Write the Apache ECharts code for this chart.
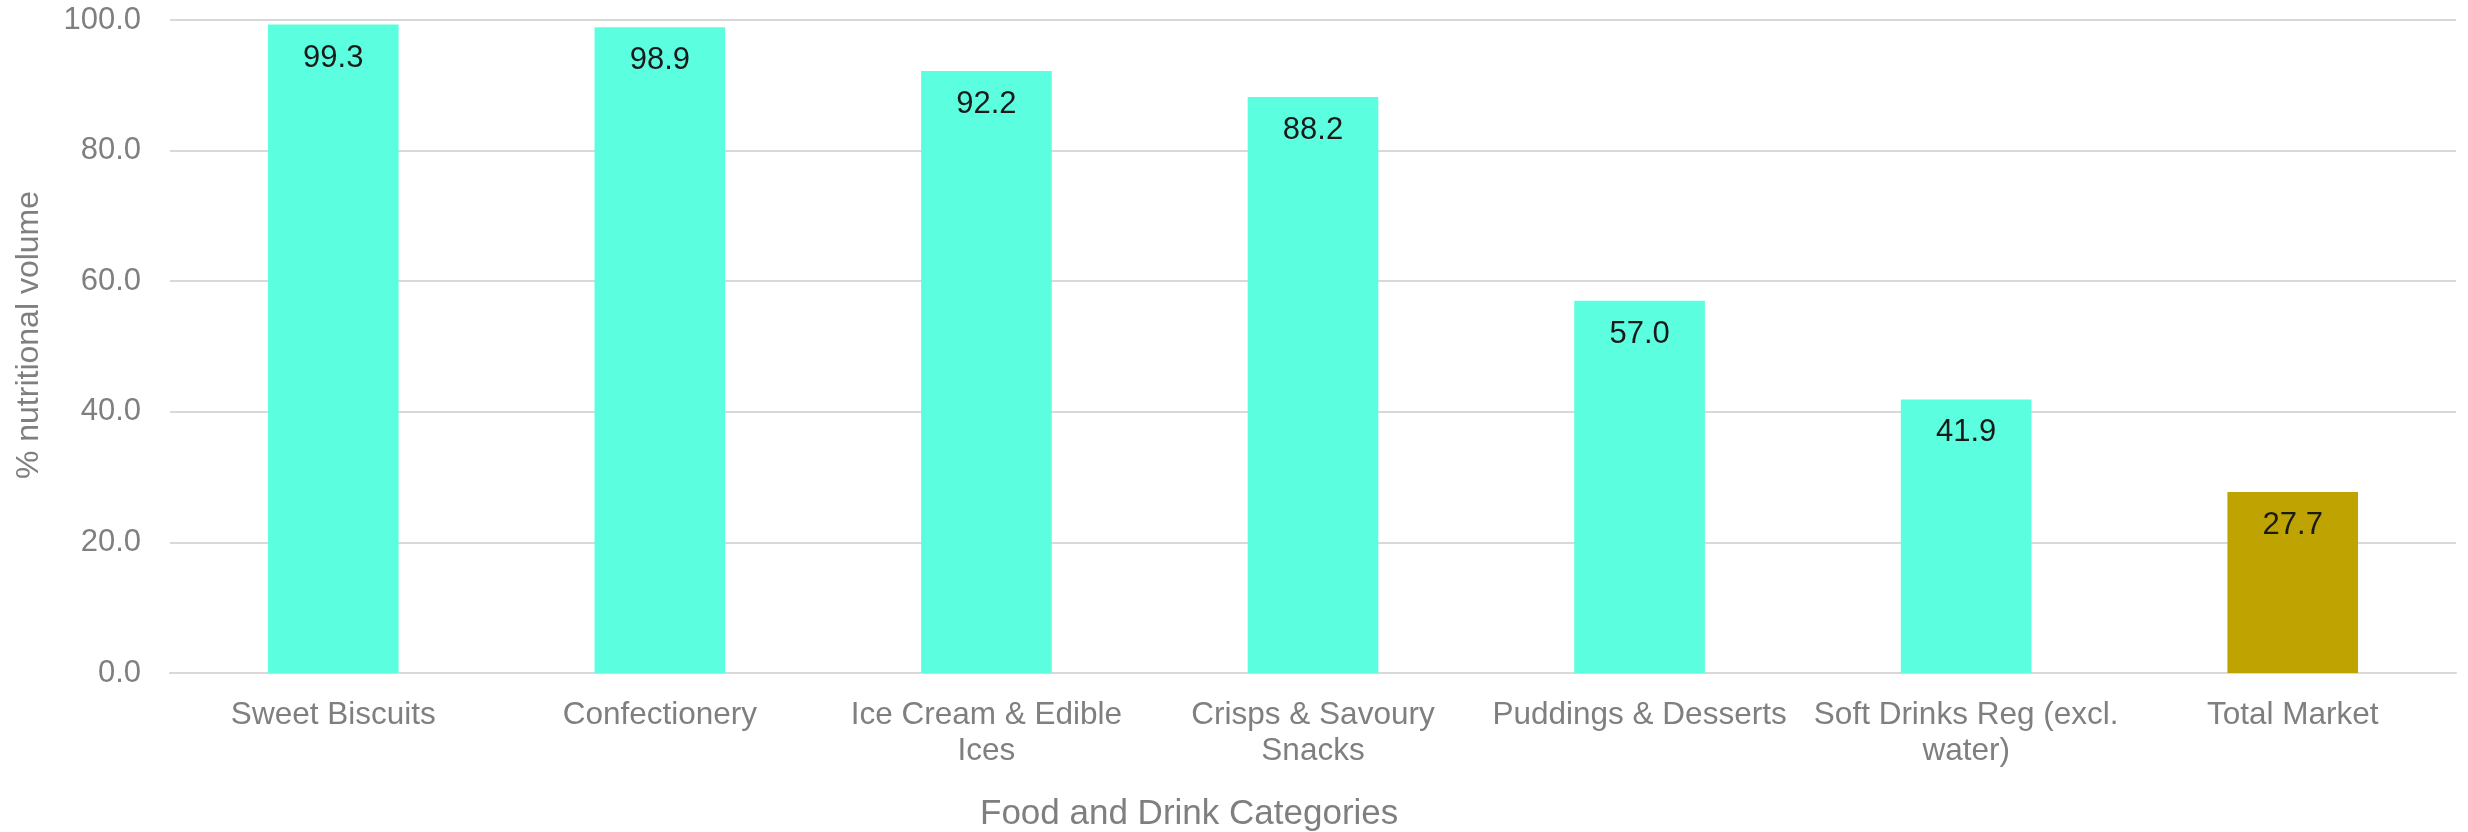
<!DOCTYPE html>
<html>
<head>
<meta charset="utf-8">
<title>% nutritional volume by food and drink category</title>
<script src="https://cdn.jsdelivr.net/npm/echarts@6/dist/echarts.min.js"></script>
<style>
  html, body { margin: 0; padding: 0; background: #ffffff; }
  #chart { width: 2468px; height: 832px; }
</style>
</head>
<body>
<div id="chart"></div>
<script>
// Categories, their wrapped axis labels and the share of nutritional volume
const categories = [
  'Sweet Biscuits',
  'Confectionery',
  'Ice Cream & Edible Ices',
  'Crisps & Savoury Snacks',
  'Puddings & Desserts',
  'Soft Drinks Reg (excl. water)',
  'Total Market'
];
const tickLabels = [
  'Sweet Biscuits',
  'Confectionery',
  'Ice Cream & Edible\nIces',
  'Crisps & Savoury\nSnacks',
  'Puddings & Desserts',
  'Soft Drinks Reg (excl.\nwater)',
  'Total Market'
];
const volumeShare = [99.3, 98.9, 92.2, 88.2, 57.0, 41.9, 27.7];
const highlightCategory = 'Total Market';

const categoryColor = '#5BFFE0';
const totalColor = '#BFA300';
const mutedText = '#7F7F7F';
const fontFamily = 'Liberation Sans';

const chart = echarts.init(document.getElementById('chart'));

chart.setOption({
  backgroundColor: '#ffffff',
  animation: false,
  grid: { left: 170, right: 12, top: 20, bottom: 159 },
  xAxis: {
    type: 'category',
    data: categories,
    axisLine: { lineStyle: { color: '#D9D9D9', width: 2 } },
    axisTick: { show: false },
    axisLabel: {
      interval: 0,
      margin: 24,
      color: mutedText,
      fontSize: 31.5,
      lineHeight: 36,
      fontFamily: fontFamily,
      formatter: (value, index) => tickLabels[index]
    }
  },
  yAxis: {
    type: 'value',
    min: 0,
    max: 100,
    interval: 20,
    splitLine: { lineStyle: { color: '#D9D9D9', width: 2 } },
    axisLabel: {
      margin: 29,
      color: mutedText,
      fontSize: 31,
      formatter: v => v.toFixed(1)
    }
  },
  series: [{
    type: 'bar',
    barWidth: '40%',
    data: volumeShare.map((v, i) => ({
      value: v,
      itemStyle: { color: categories[i] === highlightCategory ? totalColor : categoryColor }
    })),
    label: {
      show: true,
      position: 'insideTop',
      distance: 18,
      color: '#1A1A1A',
      fontSize: 31,
      fontFamily: fontFamily,
      formatter: p => p.value.toFixed(1)
    }
  }],
  graphic: [
    {
      type: 'text',
      left: 980,
      top: 797,
      style: {
        text: 'Food and Drink Categories',
        fill: mutedText,
        font: '35px ' + fontFamily
      }
    },
    {
      type: 'text',
      x: 13,
      y: 335,
      rotation: Math.PI / 2,
      style: {
        text: '% nutritional volume',
        fill: mutedText,
        font: '32px ' + fontFamily,
        align: 'center',
        verticalAlign: 'top'
      }
    }
  ]
});
</script>
</body>
</html>
